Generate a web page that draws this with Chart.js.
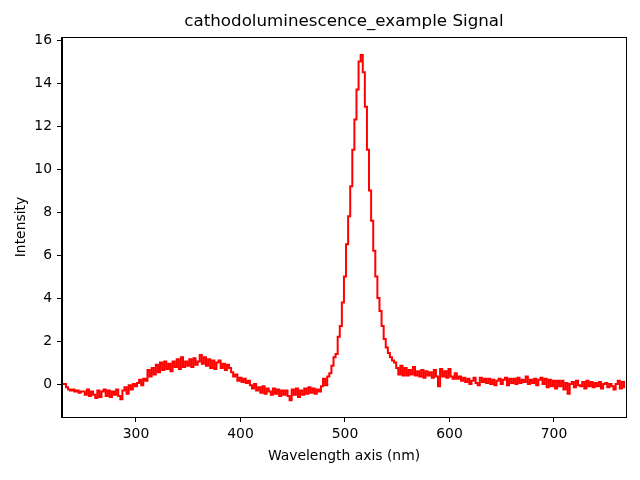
<!DOCTYPE html>
<html>
<head>
<meta charset="utf-8">
<script src="https://cdn.jsdelivr.net/npm/chart.js@4"></script>
<style>
html,body{margin:0;padding:0;background:#fff;}
#wrap{width:640px;height:480px;}
</style>
</head>
<body>
<div id="wrap"><canvas id="c" width="640" height="480"></canvas></div>
<script>
const titleText = 'cathodoluminescence_example Signal';
const xLabel = 'Wavelength axis (nm)';
const yLabel = 'Intensity';
const xStart = 230;
const xStep = 2;
const xTicks = [300, 400, 500, 600, 700];
const yTicks = [0, 2, 4, 6, 8, 10, 12, 14, 16];
const intensity = [
  0.0, 0.0, -0.15, -0.25, -0.3, -0.25, -0.35, -0.3, -0.4, -0.35,
  -0.35, -0.5, -0.25, -0.55, -0.35, -0.5, -0.65, -0.3, -0.6, -0.35,
  -0.25, -0.55, -0.3, -0.6, -0.35, -0.5, -0.25, -0.55, -0.7, -0.3,
  -0.15, -0.45, -0.05, -0.25, 0.0, -0.1, 0.05, 0.2, -0.05, 0.25,
  0.15, 0.65, 0.35, 0.75, 0.45, 0.9, 0.55, 1.0, 0.65, 1.05,
  0.7, 0.95, 0.6, 1.05, 0.8, 1.15, 0.7, 1.25, 0.8, 1.05,
  0.85, 1.15, 0.8, 1.2, 0.9, 1.05, 1.35, 0.95, 1.25, 0.85,
  1.15, 0.75, 1.1, 0.7, 1.0, 1.1, 0.75, 0.95, 0.65, 0.9,
  0.75, 0.55, 0.35, 0.45, 0.15, 0.3, 0.1, 0.25, 0.05, 0.15,
  -0.05, -0.2, 0.0, -0.3, -0.15, -0.4, -0.1, -0.45, -0.2, -0.35,
  -0.5, -0.2, -0.45, -0.25, -0.55, -0.3, -0.5, -0.3, -0.55, -0.75,
  -0.25, -0.5, -0.2, -0.6, -0.3, -0.5, -0.2, -0.45, -0.15, -0.4,
  -0.2, -0.45, -0.25, -0.35, -0.1, 0.25, -0.05, 0.35, 0.5, 0.85,
  1.25, 1.4, 2.2, 2.7, 3.8, 5.0, 6.5, 7.8, 9.2, 10.9,
  12.3, 13.7, 15.0, 15.3, 14.5, 12.9, 10.9, 9.0, 7.6, 6.2,
  5.0, 4.0, 3.4, 2.7, 2.1, 1.7, 1.45, 1.25, 1.1, 1.0,
  0.75, 0.45, 0.85, 0.4, 0.75, 0.4, 0.65, 0.45, 0.8, 0.4,
  0.6, 0.35, 0.65, 0.3, 0.6, 0.4, 0.55, 0.3, 0.65, 0.35,
  -0.1, 0.7, 0.35, 0.6, 0.3, 0.7, 0.35, 0.25, 0.5, 0.25,
  0.35, 0.15, 0.3, 0.1, 0.25, 0.0, 0.15, 0.3, 0.05, -0.05,
  0.3, 0.1, 0.25, 0.05, 0.25, 0.0, 0.2, -0.05, 0.15, 0.25,
  0.0, 0.2, 0.3, -0.05, 0.25, 0.05, 0.25, 0.0, 0.3, 0.05,
  0.2, 0.1, 0.35, 0.0, 0.2, 0.05, 0.25, -0.05, 0.2, 0.3,
  0.0, 0.25, -0.15, 0.2, -0.1, 0.15, -0.2, 0.15, -0.1, 0.15,
  -0.25, 0.05, -0.45, 0.0, 0.1, -0.15, 0.15, -0.05, -0.1, 0.1,
  -0.2, 0.15, -0.1, 0.1, -0.15, 0.05, -0.1, 0.1, -0.2, 0.0,
  0.05, -0.15, 0.0, -0.1, -0.25, 0.0, 0.15, -0.2, 0.1, -0.15
];
const wavelength = intensity.map((_, i) => xStart + i * xStep);
const points = wavelength.map((x, i) => ({x: x, y: intensity[i]}));

Chart.defaults.font.family = "'DejaVu Sans', sans-serif";
Chart.defaults.color = '#000';

const frame = {
  id: 'frame',
  afterDraw(chart) {
    const a = chart.chartArea, ctx = chart.ctx;
    ctx.save();
    ctx.strokeStyle = '#000';
    ctx.lineWidth = 1;
    ctx.strokeRect(Math.round(a.left) - 0.5, Math.round(a.top) + 0.5,
                   Math.round(a.right - a.left) + 1, Math.round(a.bottom - a.top));
    ctx.fillStyle = '#000';
    ctx.font = "16.7px 'DejaVu Sans', sans-serif";
    ctx.textAlign = 'center';
    ctx.textBaseline = 'middle';
    ctx.fillText(titleText, (a.left + a.right) / 2, 22);
    ctx.restore();
  }
};

new Chart(document.getElementById('c'), {
  type: 'line',
  data: {
    datasets: [{
      data: points,
      borderColor: '#ff0000',
      borderWidth: 2,
      pointRadius: 0,
      stepped: 'middle',
      fill: false
    }]
  },
  options: {
    responsive: false,
    animation: false,
    layout: {padding: {left: 0, right: 14, top: 37, bottom: 0}},
    plugins: {
      legend: {display: false},
      tooltip: {enabled: false},
      title: {display: false, text: titleText}
    },
    scales: {
      x: {
        type: 'linear',
        min: 229.2,
        max: 768.9,
        afterFit(s) { s.height = 63; },
        afterBuildTicks(s) { s.ticks = xTicks.map(v => ({value: v})); },
        grid: {display: true, drawOnChartArea: false, drawTicks: true, tickLength: 5, color: '#000'},
        border: {display: true, color: '#000', width: 1},
        ticks: {font: {size: 13.9}, padding: 4, maxRotation: 0, color: '#000'},
        title: {display: true, text: xLabel, font: {size: 13.9}, color: '#000', padding: {top: 4, bottom: 15}}
      },
      y: {
        type: 'linear',
        min: -1.53,
        max: 16.14,
        afterFit(s) { s.width = 62; },
        afterBuildTicks(s) { s.ticks = yTicks.map(v => ({value: v})); },
        grid: {display: true, drawOnChartArea: false, drawTicks: true, tickLength: 5, color: '#000'},
        border: {display: true, color: '#000', width: 1},
        ticks: {font: {size: 13.9}, padding: 5, color: '#000'},
        title: {display: true, text: yLabel, font: {size: 13.9}, color: '#000', padding: {top: 13, bottom: 4}}
      }
    }
  },
  plugins: [frame]
});
</script>
</body>
</html>
